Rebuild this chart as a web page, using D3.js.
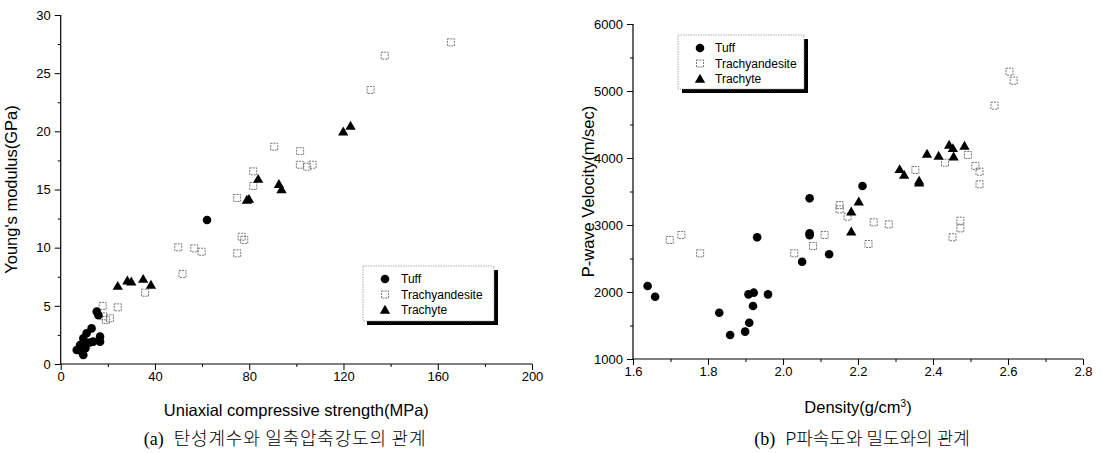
<!DOCTYPE html>
<html><head><meta charset="utf-8">
<script src="https://cdn.jsdelivr.net/npm/d3@7"></script>
<style>
body{margin:0;background:#fff;}
svg{display:block;}
text{font-family:"Liberation Sans",Arial,sans-serif;fill:#000;}
</style></head>
<body>
<svg id="c" width="1103" height="453"></svg>
<script>
// ---- Chart (a): Young's modulus vs UCS ----
const tuffUCS = [13.1,11.0,16.7,16.7,13.8,9.6,11.0,8.2,6.8,8.9,9.6,15.3,16.0,12.4,10.5,62.1];
const tuffE   = [3.06,2.64,2.35,1.92,1.92,2.2,1.78,1.63,1.2,1.06,0.77,4.5,4.2,1.85,1.35,12.38];
const andesiteUCS = [165.6,137.5,131.5,90.6,101.6,101.5,104.6,106.9,81.7,81.7,74.9,76.8,77.9,49.9,56.7,59.8,74.9,51.7,35.8,17.8,24.2,19.2,20.9,18.1];
const andesiteE   = [27.65,26.5,23.55,18.68,18.3,17.13,16.96,17.13,16.56,15.3,14.27,10.94,10.66,10.03,9.94,9.65,9.51,7.74,6.13,4.99,4.87,3.78,3.93,4.1];
const trachyteUCS = [123,119.9,83.8,92.6,93.7,79.9,79.0,24.2,28.3,29.95,35.0,38.3];
const trachyteE   = [20.46,19.97,15.9,15.45,15.0,14.18,14.1,6.7,7.16,7.07,7.3,6.79];
const ucsTicks = [0,40,80,120,160,200];
const eTicks = [0,5,10,15,20,25,30];

// ---- Chart (b): P-wave velocity vs density ----
const tuffDen = [1.639,1.659,1.830,1.859,1.899,1.910,1.920,1.908,1.922,1.960,1.931,2.051,2.071,2.071,2.071,2.123,2.212];
const tuffVp  = [2090,1930,1691,1358,1408,1542,1791,1965,1990,1965,2816,2452,2876,2846,3398,2563,3582];
const andesiteDen = [1.698,1.729,1.779,2.030,2.080,2.111,2.151,2.151,2.172,2.228,2.242,2.282,2.353,2.432,2.493,2.513,2.524,2.524,2.473,2.473,2.452,2.564,2.604,2.615];
const andesiteVp  = [2776,2851,2577,2577,2687,2851,3299,3234,3124,2716,3040,3010,3821,3930,4045,3881,3796,3607,3064,2950,2816,4781,5288,5154];
const trachyteDen = [2.202,2.182,2.182,2.311,2.323,2.363,2.363,2.384,2.415,2.443,2.453,2.455,2.484];
const trachyteVp  = [3348,3199,2900,3831,3746,3632,3660,4060,4030,4194,4145,4020,4179];
const denTicks = [1.6,1.8,2.0,2.2,2.4,2.6,2.8];
const vpTicks = [1000,2000,3000,4000,5000,6000];

const seriesNames = ["Tuff","Trachyandesite","Trachyte"];

const svg = d3.select("#c");

function marker(g, type, x, y){
  if(type==="Tuff"){
    g.append("circle").attr("cx",x).attr("cy",y).attr("r",4.3).attr("fill","#000");
  } else if(type==="Trachyandesite"){
    g.append("rect").attr("x",x-3.5).attr("y",y-3.5).attr("width",7).attr("height",7)
      .attr("fill","none").attr("stroke","#777").attr("stroke-width",1).attr("stroke-dasharray","2,1");
  } else {
    g.append("path").attr("d",d3.symbol(d3.symbolTriangle,46)()).attr("transform",`translate(${x},${y+0.8})`).attr("fill","#000");
  }
}

function drawChart(o){
  const g = svg.append("g");
  const x = d3.scaleLinear().domain(o.xDom).range([o.x0,o.x1]);
  const y = d3.scaleLinear().domain(o.yDom).range([o.y0,o.y1]);
  const xa = g.append("g").attr("transform",`translate(0,${o.y0})`)
    .call(d3.axisBottom(x).tickValues(o.xMinor).tickSize(3).tickFormat(""));
  const ya = g.append("g").attr("transform",`translate(${o.x0},0)`)
    .call(d3.axisLeft(y).tickValues(o.yMinor).tickSize(3).tickFormat(""));
  const xb = g.append("g").attr("transform",`translate(0,${o.y0})`)
    .call(d3.axisBottom(x).tickValues(o.xTicks).tickSize(6).tickPadding(2).tickFormat(o.xFmt));
  const yb = g.append("g").attr("transform",`translate(${o.x0},0)`)
    .call(d3.axisLeft(y).tickValues(o.yTicks).tickSize(6).tickPadding(4).tickFormat(o.yFmt));
  g.selectAll(".domain").attr("stroke","#000").attr("stroke-width",1.2);
  g.selectAll(".tick line").attr("stroke","#000");
  g.selectAll(".tick text").style("font-size","13px").style("font-family","'Liberation Sans',Arial,sans-serif");
  xa.select(".domain").remove(); ya.select(".domain").remove();
  xb.select(".domain").attr("d",`M${o.x0},0H${o.x1}`);
  yb.select(".domain").attr("d",`M0,${o.y0}V${o.y1}`);

  const pg = g.append("g");
  o.series.forEach(s=>{
    s.xs.forEach((xv,i)=>marker(pg,s.name,x(xv),y(s.ys[i])));
  });

  g.append("text").attr("x",(o.x0+o.x1)/2).attr("y",o.xTitleY).attr("text-anchor","middle")
    .style("font-size","16.5px").call(o.xTitle);
  g.append("text").attr("transform",`translate(${o.yTitleX},${(o.y0+o.y1)/2}) rotate(-90)`)
    .attr("text-anchor","middle").style("font-size","16.5px").text(o.yTitle);
  const cap = g.append("text").attr("x",o.capX).attr("y",445).attr("text-anchor","middle")
    .style("font-size","18px").style("font-family","'Liberation Serif','Noto Sans CJK KR',serif");
  cap.append("tspan").text(o.capA);
  cap.append("tspan").attr("dx",10).style("font-family","'Noto Sans CJK KR',sans-serif")
    .style("font-weight","300").style("letter-spacing",o.capLS).text(o.capB);

  const L = o.legend;
  const lg = g.append("g");
  lg.append("rect").attr("x",L.x+4).attr("y",L.y+4).attr("width",L.w).attr("height",L.h).attr("fill","#000");
  lg.append("rect").attr("x",L.x).attr("y",L.y).attr("width",L.w).attr("height",L.h)
    .attr("fill","#fff").attr("stroke","#999").attr("stroke-width",0.8).attr("stroke-dasharray","1.5,1");
  seriesNames.forEach((n,i)=>{
    const yy = L.y + L.first + i*L.step;
    marker(lg,n,L.x+L.mx,yy);
    lg.append("text").attr("x",L.x+L.tx).attr("y",yy).attr("dy","0.35em").style("font-size",L.fs).text(n);
  });
}

drawChart({
  xDom:[0,200], yDom:[0,30], x0:60.7, x1:532, y0:364, y1:15,
  xTicks:ucsTicks, yTicks:eTicks, xMinor:[20,60,100,140,180], yMinor:[2.5,7.5,12.5,17.5,22.5,27.5],
  xFmt:d3.format("d"), yFmt:d3.format("d"),
  series:[{name:"Trachyandesite",xs:andesiteUCS,ys:andesiteE},{name:"Trachyte",xs:trachyteUCS,ys:trachyteE},{name:"Tuff",xs:tuffUCS,ys:tuffE}],
  xTitleY:416, xTitle:t=>t.text("Uniaxial compressive strength(MPa)"),
  yTitleX:17, yTitle:"Young's modulus(GPa)",
  capX:285, capA:"(a)", capB:"탄성계수와 일축압축강도의 관계", capLS:"0.8px",
  legend:{x:363,y:266,w:131,h:55,first:13,step:15.5,mx:22,tx:38,fs:"12px"}
});

drawChart({
  xDom:[1.6,2.8], yDom:[1000,6000], x0:633, x1:1083, y0:359, y1:24,
  xTicks:denTicks, yTicks:vpTicks, xMinor:[1.7,1.9,2.1,2.3,2.5,2.7], yMinor:[1500,2500,3500,4500,5500],
  xFmt:d3.format(".1f"), yFmt:d3.format("d"),
  series:[{name:"Trachyandesite",xs:andesiteDen,ys:andesiteVp},{name:"Trachyte",xs:trachyteDen,ys:trachyteVp},{name:"Tuff",xs:tuffDen,ys:tuffVp}],
  xTitleY:413, xTitle:t=>{t.text("Density(g/cm"); t.append("tspan").attr("dy",-6).style("font-size","10px").text("3"); t.append("tspan").attr("dy",6).text(")");},
  yTitleX:594, yTitle:"P-wave Velocity(m/sec)",
  capX:862, capA:"(b)", capB:"P파속도와 밀도와의 관계", capLS:"0px",
  legend:{x:678,y:35,w:126,h:54,first:13,step:15.5,mx:22,tx:37,fs:"12px"}
});
</script>
</body></html>
